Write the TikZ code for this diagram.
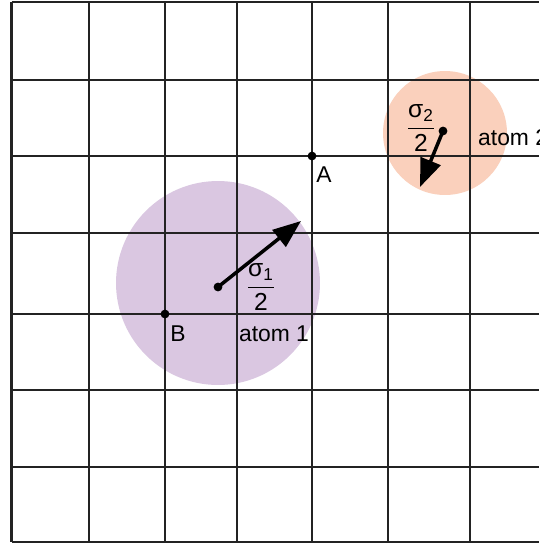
\documentclass[tikz,border=0pt]{standalone}
\usepackage{amsmath}
\usepackage{fontspec}
\setmainfont{Liberation Sans}
\usetikzlibrary{arrows.meta,positioning}
\definecolor{atPurple}{RGB}{218,199,225}
\definecolor{atPeach}{RGB}{250,208,188}
\definecolor{gridGray}{RGB}{35,35,35}

\begin{document}
\begin{tikzpicture}[
  x=0.02cm, y=-0.02cm,
  font=\fontsize{13}{15}\selectfont,
  gridline/.style={draw=gridGray, line width=1.2pt},
  pt/.style={circle, fill=black, inner sep=0pt, minimum size=5pt},
  arr/.style={-{Triangle[length=16pt, width=12pt]}, line width=2pt},
  frac/.style={font=\fontsize{14}{16}\selectfont, inner sep=1pt},
]
\useasboundingbox (0,0) rectangle (539,545);
\fill[white] (0,0) rectangle (539,545);
% atoms
\fill[atPurple] (218,283) circle (2.04cm);
\fill[atPeach] (445,133) circle (1.24cm);
% grid
\foreach \gx in {11.5,89,165,237,312,388,470}
  \draw[gridline] (\gx,2) -- (\gx,542);
\foreach \gy in {2,80,156,233,314,390,467,542}
  \draw[gridline] (11.5,\gy) -- (539,\gy);
% grid points
\node[pt] (A) at (312,156) {};
\node (labA) at (324,175) {A};
\node[pt] (B) at (165,314) {};
\node (labB) at (178,334) {B};
% atom 1
\node[pt] (c1) at (218,287) {};
\coordinate (t1) at (301,221);
\draw[arr] (c1.center) -- (t1);
\node[frac] (f1) at (261,287) {$\dfrac{\text{σ}_{\text{1}}}{\text{2}}$};
\node (atom1) at (274,334) {atom 1};
% atom 2
\node[pt] (c2) at (443,131) {};
\coordinate (t2) at (420,187);
\draw[arr] (c2.center) -- (t2);
\node[frac] (f2) at (421,128) {$\dfrac{\text{σ}_{\text{2}}}{\text{2}}$};
\node[anchor=west] (atom2) at (472,138) {atom 2};
\end{tikzpicture}
\end{document}
